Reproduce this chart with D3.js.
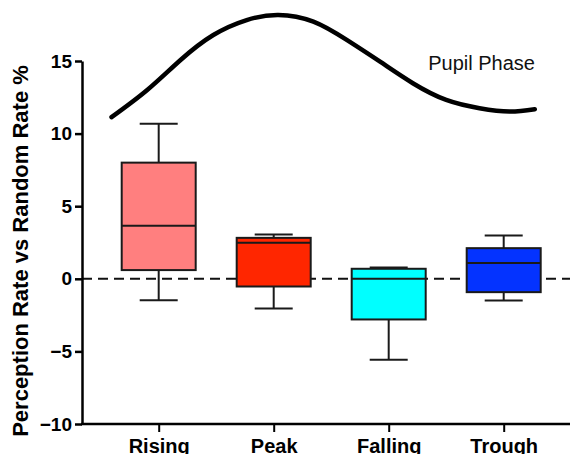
<!DOCTYPE html>
<html><head><meta charset="utf-8">
<script src="https://cdn.jsdelivr.net/npm/d3@7"></script>
<style>body{margin:0;background:#fff}svg{display:block}text{font-family:Arial,"Liberation Sans",sans-serif}</style>
</head><body><svg id="c" width="570" height="454"></svg>
<script>
const categories = ["Rising", "Peak", "Falling", "Trough"];
const whiskerMin = [-1.47, -2.04, -5.57, -1.49];
const q1 = [0.6, -0.53, -2.8, -0.92];
const median = [3.65, 2.48, 0.0, 1.08];
const q3 = [8.0, 2.82, 0.69, 2.11];
const whiskerMax = [10.67, 3.05, 0.78, 2.98];
const colors = ["#FF7F7F", "#FF2600", "#00FFFF", "#0433FF"];
const yTicks = [-10, -5, 0, 5, 10, 15];
// Pupil phase schematic curve (x in category-index units, y in axis units)
const pupilX = [-0.41, -0.10, 0.19, 0.475, 0.765, 1.04, 1.345, 1.635, 1.925, 2.21, 2.50, 2.79, 3.05, 3.27];
const pupilY = [11.13, 13.0, 15.07, 16.79, 17.82, 18.17, 17.71, 16.45, 14.95, 13.47, 12.32, 11.75, 11.52, 11.68];

const svg = d3.select("#c");
const y = d3.scaleLinear().domain([-10, 15]).range([424, 61]);
const x = d3.scalePoint().domain(categories).range([158.7, 503.7]);
const xi = d3.scaleLinear().domain([0, 3]).range([x(categories[0]), x(categories[3])]);
const axisX0 = 82, axisX1 = 570, boxW = 74, capW = 38;

// zero dashed line
svg.append("line").attr("x1", axisX0).attr("x2", axisX1).attr("y1", y(0)).attr("y2", y(0))
  .attr("stroke", "#111").attr("stroke-width", 2).attr("stroke-dasharray", "10,6");

// boxes
categories.forEach((c, i) => {
  const cx = x(c);
  const g = svg.append("g").attr("stroke", "#1a1a1a").attr("stroke-width", 2);
  g.append("line").attr("x1", cx).attr("x2", cx).attr("y1", y(whiskerMax[i])).attr("y2", y(q3[i]));
  g.append("line").attr("x1", cx).attr("x2", cx).attr("y1", y(q1[i])).attr("y2", y(whiskerMin[i]));
  g.append("line").attr("x1", cx - capW / 2).attr("x2", cx + capW / 2).attr("y1", y(whiskerMax[i])).attr("y2", y(whiskerMax[i]));
  g.append("line").attr("x1", cx - capW / 2).attr("x2", cx + capW / 2).attr("y1", y(whiskerMin[i])).attr("y2", y(whiskerMin[i]));
  g.append("rect").attr("x", cx - boxW / 2).attr("width", boxW)
    .attr("y", y(q3[i])).attr("height", y(q1[i]) - y(q3[i])).attr("fill", colors[i]);
  g.append("line").attr("x1", cx - boxW / 2).attr("x2", cx + boxW / 2).attr("y1", y(median[i])).attr("y2", y(median[i]));
});

// pupil curve
const line = d3.line().x(d => xi(d[0])).y(d => y(d[1])).curve(d3.curveNatural);
svg.append("path").attr("d", line(pupilX.map((v, i) => [v, pupilY[i]])))
  .attr("fill", "none").attr("stroke", "#000").attr("stroke-width", 4.5).attr("stroke-linecap", "round");
svg.append("text").attr("x", 535).attr("y", 70).attr("text-anchor", "end")
  .attr("font-size", 20).attr("fill", "#111").text("Pupil Phase");

// y axis
const ya = svg.append("g").attr("transform", `translate(${axisX0},0)`)
  .call(d3.axisLeft(y).tickValues(yTicks).tickSize(7).tickPadding(3).tickSizeOuter(0));
ya.select(".domain").attr("stroke-width", 2.5).attr("stroke", "#000");
ya.selectAll(".tick line").attr("stroke-width", 2.5).attr("stroke", "#000");
ya.selectAll("text").attr("font-size", 19).attr("font-weight", "bold").attr("fill", "#000")
  .attr("font-family", "Arial, 'Liberation Sans', sans-serif");

// x axis
const xa = svg.append("g").attr("transform", `translate(0,${y(-10)})`)
  .call(d3.axisBottom(x).tickSize(8).tickSizeOuter(0));
xa.select(".domain").remove();
xa.append("line").attr("x1", axisX0 - 1).attr("x2", axisX1).attr("y1", 0).attr("y2", 0)
  .attr("stroke", "#000").attr("stroke-width", 2.5);
xa.selectAll(".tick line").attr("stroke-width", 2).attr("stroke", "#000");
xa.selectAll(".tick text").attr("y", 29).attr("dy", 0).attr("font-size", 20).attr("font-weight", "bold")
  .attr("fill", "#000").attr("font-family", "Arial, 'Liberation Sans', sans-serif");

// y title
svg.append("text").attr("transform", "translate(28,251) rotate(-90)").attr("text-anchor", "middle")
  .attr("font-size", 22).attr("font-weight", "bold").attr("fill", "#000")
  .text("Perception Rate vs Random Rate %");
</script></body></html>
